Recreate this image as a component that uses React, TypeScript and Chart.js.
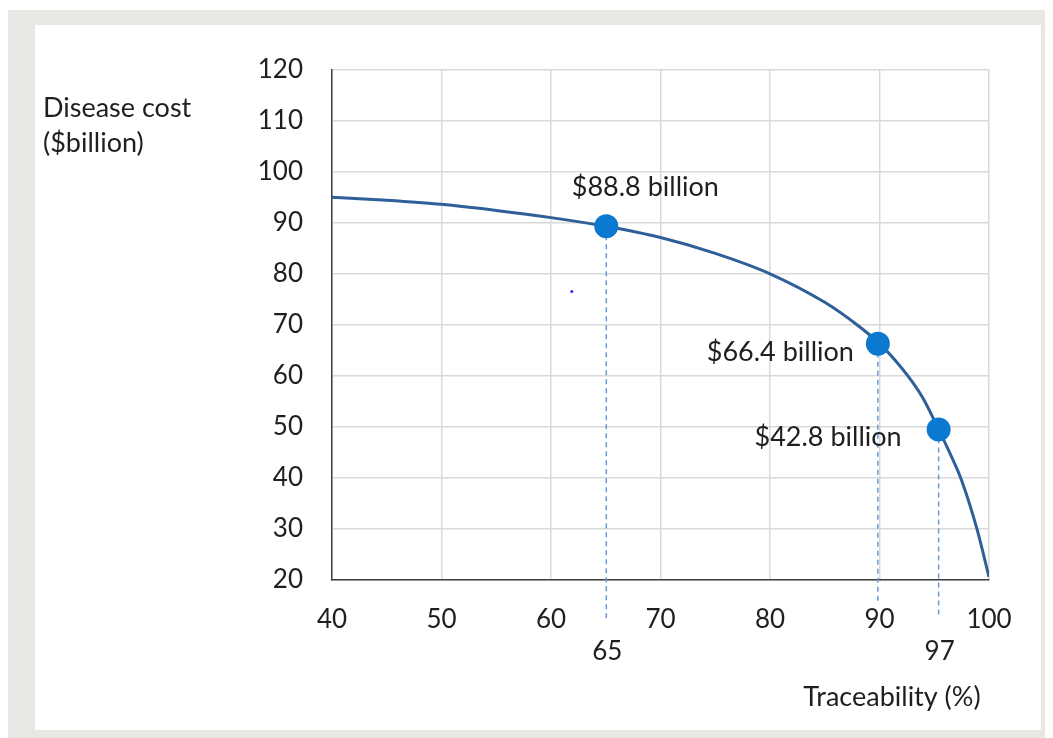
import React, { useEffect, useRef } from "react";
import { Chart, registerables } from "chart.js";

Chart.register(...registerables);

// Curve: disease cost vs traceability
const curveX = [40, 45, 50, 55, 60, 65, 70, 75, 80, 85, 88, 90, 92, 93, 94, 95.4, 96.5, 97.5, 98.9, 100];
const curveY = [95, 94.4, 93.6, 92.4, 91, 89.3, 87.1, 84.0, 80.0, 74.4, 69.9, 66.3, 61.6, 58.8, 55.5, 49.5, 44.5, 39.5, 30, 20.6];

// Highlighted points
const markerX = [65.05, 89.85, 95.4];
const markerY = [89.3, 66.3, 49.5];
const markerLabels = ["$88.8 billion", "$66.4 billion", "$42.8 billion"];
const dropBottomY = [11.9, 15.6, 12.8];

// Extra x call-outs under the axis
const calloutX = [65.05, 95.4];
const calloutLabels = ["65", "97"];

// stray dot present in the original picture
const strayX = [61.9];
const strayY = [76.5];

const xTicks = [40, 50, 60, 70, 80, 90, 100];
const yTicks = [20, 30, 40, 50, 60, 70, 80, 90, 100, 110, 120];

const FONT = "Lato, 'Open Sans', sans-serif";
const TEXT = "#1f1f1f";

export default function App() {
  const ref = useRef<HTMLCanvasElement | null>(null);

  useEffect(() => {
    if (!ref.current) return;
    const labelPlugin = {
      id: "labels",
      afterDatasetsDraw(chart: any) {
        const ctx = chart.ctx;
        const xs = chart.scales.x;
        const ys = chart.scales.y;
        ctx.save();
        ctx.fillStyle = TEXT;
        ctx.font = `27px ${FONT}`;
        ctx.textBaseline = "middle";
        const offs = [
          { dx: 39, dy: -39, align: "center" },
          { dx: -24, dy: 9, align: "right" },
          { dx: -37, dy: 8, align: "right" },
        ];
        markerLabels.forEach((t, i) => {
          const px = xs.getPixelForValue(markerX[i]);
          const py = ys.getPixelForValue(markerY[i]);
          ctx.textAlign = offs[i].align;
          ctx.fillText(t, px + offs[i].dx, py + offs[i].dy);
        });
        ctx.font = `26px ${FONT}`;
        ctx.textAlign = "center";
        calloutLabels.forEach((t, i) => {
          const px = xs.getPixelForValue(calloutX[i]);
          ctx.fillText(t, px + 1, chart.chartArea.bottom + 72);
        });
        ctx.font = `27px ${FONT}`;
        ctx.textAlign = "left";
        ctx.fillText("Disease cost", 8, 83);
        ctx.fillText("($billion)", 8, 118);
        ctx.textAlign = "center";
        ctx.fillText("Traceability (%)", 857, 672);
        ctx.restore();
      },
    };

    const chart = new Chart(ref.current, {
      type: "scatter",
      data: {
        datasets: [
          {
            label: "points",
            data: markerX.map((x, i) => ({ x, y: markerY[i] })),
            pointRadius: 12,
            pointHoverRadius: 12,
            backgroundColor: "#0b79d0",
            borderWidth: 0,
            showLine: false,
          },
          {
            label: "curve",
            data: curveX.map((x, i) => ({ x, y: curveY[i] })),
            showLine: true,
            borderColor: "#2f5f99",
            borderWidth: 3,
            pointRadius: 0,
            cubicInterpolationMode: "monotone",
            fill: false,
          },
          ...markerX.map((x, i) => ({
            label: "drop" + i,
            data: [
              { x, y: markerY[i] },
              { x, y: dropBottomY[i] },
            ],
            showLine: true,
            borderColor: "#6a9ad0",
            borderWidth: 1.5,
            borderDash: [5, 4],
            pointRadius: 0,
            clip: false,
          })),
          {
            label: "stray",
            data: strayX.map((x, i) => ({ x, y: strayY[i] })),
            pointRadius: 1.5,
            backgroundColor: "#2b2bff",
            borderWidth: 0,
          },
        ],
      },
      options: {
        animation: false,
        responsive: false,
        layout: { padding: { top: 43, right: 52, bottom: 0, left: 0 } },
        plugins: { legend: { display: false }, tooltip: { enabled: false } },
        scales: {
          x: {
            type: "linear",
            min: 40,
            max: 100,
            afterFit: (s: any) => {
              s.height = 150;
            },
            afterBuildTicks: (s: any) => {
              s.ticks = xTicks.map((v) => ({ value: v }));
            },
            ticks: { color: TEXT, font: { family: FONT, size: 26 }, padding: 24 },
            grid: { color: "#d9d9d9", lineWidth: 1.5, drawTicks: false },
            border: { color: "#404040", width: 1.5 },
          },
          y: {
            type: "linear",
            min: 20,
            max: 120,
            afterFit: (s: any) => {
              s.width = 297;
            },
            afterBuildTicks: (s: any) => {
              s.ticks = yTicks.map((v) => ({ value: v }));
            },
            ticks: { color: TEXT, font: { family: FONT, size: 26 }, padding: 29 },
            grid: { color: "#d9d9d9", lineWidth: 1.5, drawTicks: false },
            border: { color: "#404040", width: 1.5 },
          },
        },
      },
      plugins: [labelPlugin],
    } as any);
    return () => chart.destroy();
  }, []);

  return (
    <div style={{ paddingTop: 2 }}>
      <div
        style={{
          position: "relative",
          width: 1045,
          height: 728,
          background: "#e8e7e3",
        }}
      >
        <div
          style={{
            position: "absolute",
            left: 27,
            top: 15,
            width: 1006,
            height: 705,
            background: "#ffffff",
          }}
        >
          <canvas ref={ref} width={1006} height={705} style={{ display: "block" }} />
        </div>
      </div>
    </div>
  );
}
